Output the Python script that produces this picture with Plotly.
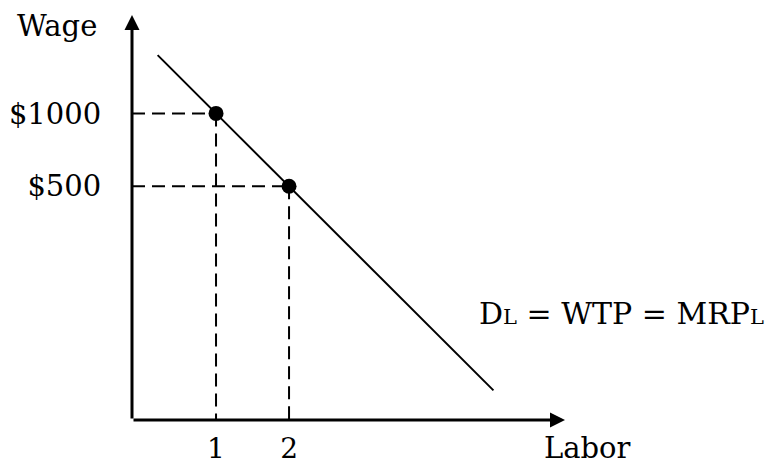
import plotly.graph_objects as go

# Data
labor_points = [1, 2]
wage_points = [1000, 500]
demand_x = [0.2, 4.8]
demand_y = [1400, -900]
x_ticks = [1, 2]
x_ticktext = ["1", "2"]
y_ticks = [500, 1000]
y_ticktext = ["$500", "$1000"]

X0, X1 = -0.151, 5.78
Y0, Y1 = -1103, 1675

FONT = "DejaVu Serif"
DASH = "13px,7px"

fig = go.Figure()

# dashed guides
for lx, wy in zip(labor_points, wage_points):
    fig.add_trace(go.Scatter(x=[X0, lx], y=[wy, wy], mode="lines",
                             line=dict(color="black", width=2, dash=DASH),
                             hoverinfo="skip", showlegend=False))
    fig.add_trace(go.Scatter(x=[lx, lx], y=[wy, Y0], mode="lines",
                             line=dict(color="black", width=2, dash=DASH),
                             hoverinfo="skip", showlegend=False))

# demand line
fig.add_trace(go.Scatter(x=demand_x, y=demand_y, mode="lines",
                         line=dict(color="black", width=2),
                         showlegend=False))
# points
fig.add_trace(go.Scatter(x=labor_points, y=wage_points, mode="markers",
                         marker=dict(color="black", size=15),
                         showlegend=False))

# axes arrows
fig.add_annotation(x=X0, y=Y1, ax=X0, ay=Y0, xref="x", yref="y", axref="x", ayref="y",
                   text="", showarrow=True, arrowhead=2, arrowsize=1, arrowwidth=3,
                   arrowcolor="black")
fig.add_annotation(x=X1, y=Y0, ax=X0, ay=Y0, xref="x", yref="y", axref="x", ayref="y",
                   text="", showarrow=True, arrowhead=2, arrowsize=1, arrowwidth=3,
                   arrowcolor="black")

# labels
fig.add_annotation(x=-0.1732, y=0.973, xref="paper", yref="paper", text="Wage",
                   showarrow=False, xanchor="center", yanchor="middle",
                   font=dict(family=FONT, size=29, color="black"))
fig.add_annotation(x=1.053, y=-0.07, xref="paper", yref="paper", text="Labor",
                   showarrow=False, xanchor="center", yanchor="middle",
                   font=dict(family=FONT, size=29, color="black"))
fig.add_annotation(x=1.1316, y=0.263, xref="paper", yref="paper",
                   text='D<span style="font-size:21px">L</span> = WTP = MRP<span style="font-size:21px">L</span>',
                   showarrow=False, xanchor="center", yanchor="middle",
                   font=dict(family=FONT, size=30, color="black"))

fig.update_xaxes(range=[X0, X1], showgrid=False, zeroline=False, showline=False,
                 automargin=False,
                 tickvals=x_ticks, ticktext=x_ticktext, ticks="outside", ticklen=3,
                 tickcolor="rgba(0,0,0,0)",
                 tickfont=dict(family=FONT, size=28, color="black"))
fig.update_yaxes(range=[Y0, Y1], showgrid=False, zeroline=False, showline=False,
                 automargin=False,
                 tickvals=y_ticks, ticktext=y_ticktext, ticks="outside", ticklen=24,
                 tickcolor="rgba(0,0,0,0)",
                 tickfont=dict(family=FONT, size=29, color="black"))

# the page body keeps an 8px margin, so the figure is 8px smaller and shifted
fig.update_layout(width=766, height=458, margin=dict(l=124, r=209, t=7, b=46),
                  plot_bgcolor="white", paper_bgcolor="white")

fig.write_html("out.html")
